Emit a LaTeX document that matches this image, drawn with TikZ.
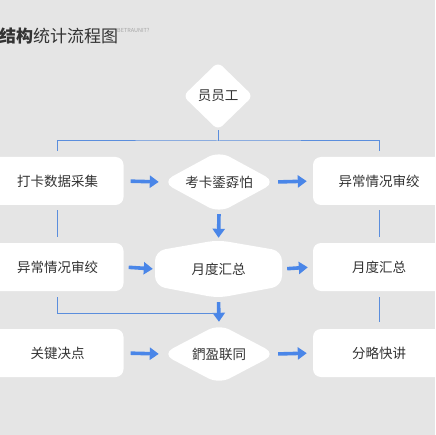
\documentclass[tikz,border=0pt]{standalone}
\usepackage{fontspec}
\setmainfont{Noto Sans CJK SC}
\usetikzlibrary{shapes.geometric,arrows.meta,calc}
\definecolor{bg}{HTML}{E5E5E5}
\definecolor{ink}{HTML}{333333}
\definecolor{flow}{HTML}{4A86E8}
\definecolor{wire}{HTML}{5B8EDD}
\tikzset{
  box/.style={rectangle, rounded corners=8pt, fill=white, minimum width=132pt, minimum height=48pt, inner sep=0pt, text=ink, font=\fontsize{13.5}{16}\selectfont},
  dia/.style={diamond, rounded corners=12pt, fill=white, inner sep=0pt, text=ink, font=\fontsize{13.5}{16}\selectfont},
  lbl/.style={inner sep=0pt, text=ink, font=\fontsize{13.5}{16}\selectfont},
  bigarrow/.style={draw=flow, line width=3.6pt, -{Triangle[length=9pt,width=12pt]}},
  thinline/.style={draw=wire, line width=1pt},
}
\begin{document}
\begin{tikzpicture}[x=1pt,y=-1pt]
\fill[bg] (0,0) rectangle (435,435);
\useasboundingbox (0,0) rectangle (435,435);

% title
\node (title) [anchor=west, inner sep=0pt, text=ink, font=\fontsize{17}{20}\selectfont] at (-1,36) {\textbf{结构}统计流程图};
\node (tag) [anchor=west, inner sep=0pt, text=black!35, font=\fontsize{5.5}{6}\selectfont] at (117,30) {BETRAUNIT?};

% top diamond
\node (top) [dia, minimum width=70pt, minimum height=68pt, rounded corners=6pt] at (218,96) {员员工};

% row 1
\node (l1) [box] at (57.5,181) {打卡数据采集};
\node (m1) [dia, minimum width=114pt, minimum height=62pt, aspect=1.9] at (219,182) {考卡鋈孬怕};
\node (r1) [box] at (379,181) {异常情况审绞};

% row 2
\fill[white, rounded corners=10pt] (218,240) -- (282,251) -- (282,286) -- (218,298) -- (155,286) -- (155,251) -- cycle;
\node (l2) [box] at (57.5,267) {异常情况审绞};
\node (m2) [lbl, minimum width=127pt, minimum height=58pt] at (218.5,269) {月度汇总};
\node (r2) [box] at (379,267) {月度汇总};

% row 3
\node (l3) [box] at (57.5,353) {关键决点};
\node (m3) [dia, minimum width=114pt, minimum height=60pt, aspect=1.9] at (219,354) {鍆盈联同};
\node (r3) [box] at (379,353) {分略快讲};

% top distribution lines
\coordinate (tj) at (218,141);
\draw[thinline] (top.south) -- (tj);
\draw[thinline] ([yshift=6pt]l1.north) |- (tj) -| ([yshift=6pt]r1.north);

% horizontal big arrows
\draw[bigarrow, shorten <=7pt, shorten >=3pt] (l1.east) -- (m1.west);
\draw[bigarrow, shorten <=2pt, shorten >=6pt] (m1.east) -- (r1.west);
\draw[bigarrow, shorten <=5pt, shorten >=2pt] (l2.east) -- (m2.west);
\draw[bigarrow, shorten <=5pt, shorten >=5pt] (m2.east) -- (r2.west);
\draw[bigarrow, shorten <=7pt, shorten >=3pt] (l3.east) -- (m3.west);
\draw[bigarrow, shorten <=2pt, shorten >=6pt] (m3.east) -- (r3.west);

% vertical middle arrows
\draw[bigarrow, shorten <=1pt, shorten >=2pt] (m1.south) -- (m2.north);
\draw[bigarrow, shorten <=4pt, shorten >=2pt] (m2.south) -- (m3.north);

% side thin lines
\draw[thinline, shorten <=5pt, shorten >=6pt] (l1.south) -- (l2.north);
\draw[thinline, shorten <=5pt, shorten >=6pt] (r1.south) -- (r2.north);
\coordinate (bj) at (216,313);
\draw[thinline] ([yshift=-6pt]l2.south) |- (bj);
\draw[thinline, shorten <=6pt, shorten >=7pt] (r2.south) -- (r3.north);
\end{tikzpicture}
\end{document}
